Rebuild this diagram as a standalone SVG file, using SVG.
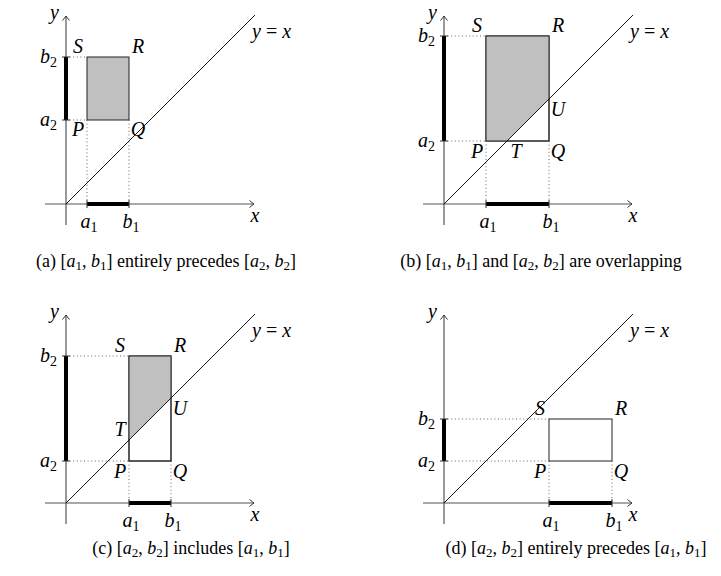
<svg xmlns="http://www.w3.org/2000/svg" width="721" height="576" viewBox="0 0 721 576">
<defs>
<marker id="arr" markerWidth="10" markerHeight="10" refX="0" refY="0" viewBox="-6 -5 8 10" orient="auto" markerUnits="userSpaceOnUse">
<path d="M -4.5 -3.5 Q -1.5 -1 0 0 Q -1.5 1 -4.5 3.5" fill="none" stroke="#333" stroke-width="1"/>
</marker>
<style>
.ax{stroke:#555;stroke-width:1.2;fill:none}
.diag{stroke:#000;stroke-width:0.9;fill:none}
.dot{stroke:#555;stroke-width:0.9;stroke-dasharray:1 2.6;fill:none}
.bar{stroke:#000;stroke-width:4;fill:none}
.tick{stroke:#333;stroke-width:1;fill:none}
.box{stroke:#222;stroke-width:1;fill:#fff}
.edge{stroke:#222;stroke-width:1;fill:none}
.shade{fill:#c0c0c0;stroke:none}
.lab{font-family:"Liberation Serif","DejaVu Serif",serif;font-style:italic;font-size:20px;fill:#000}
.rm{font-style:normal}
.sub{font-style:normal;font-size:14px}
.cap{font-family:"Liberation Serif","DejaVu Serif",serif;font-size:18px;fill:#000;text-anchor:middle}
.csub{font-size:13px}
.it{font-style:italic}
.m{text-anchor:middle}
.e{text-anchor:end}
</style>
</defs>

<!-- Panel (a) -->
<g id="panel-a" transform="translate(66,204)">
<rect class="shade" x="21" y="-147" width="42" height="63"/>
<rect class="edge" x="21" y="-147" width="42" height="63"/>
<path class="dot" d="M0 -147H21M0 -84H21M21 -84V0M63 -84V0"/>
<path class="ax" d="M-21 0H188" marker-end="url(#arr)"/>
<path class="ax" d="M0 21V-188" marker-end="url(#arr)"/>
<path class="diag" d="M0 0L189 -189"/>
<path class="bar" d="M21 0H63M0 -84V-147"/>
<path class="tick" d="M21 -4V4M63 -4V4M-4 -84H4M-4 -147H4"/>
<text class="lab e" x="-7" y="-185">y</text>
<text class="lab m" x="189" y="18">x</text>
<text class="lab m" x="23" y="24">a<tspan class="sub" dy="4">1</tspan></text>
<text class="lab m" x="65" y="24">b<tspan class="sub" dy="4">1</tspan></text>
<text class="lab e" x="-9" y="-141">b<tspan class="sub" dy="4">2</tspan></text>
<text class="lab e" x="-9" y="-78">a<tspan class="sub" dy="4">2</tspan></text>
<text class="lab m" x="12" y="-151">S</text>
<text class="lab m" x="72" y="-151">R</text>
<text class="lab m" x="12" y="-68">P</text>
<text class="lab m" x="72" y="-68">Q</text>
<text class="lab" x="186" y="-166">y <tspan class="rm">=</tspan> x</text>
</g>

<!-- Panel (b) -->
<g id="panel-b" transform="translate(444,204)">
<rect class="box" x="42" y="-168" width="63" height="105"/>
<polygon class="shade" points="42,-63 63,-63 105,-105 105,-168 42,-168"/>
<rect class="edge" x="42" y="-168" width="63" height="105"/>
<path class="dot" d="M0 -168H42M0 -63H42M42 -63V0M105 -63V0"/>
<path class="ax" d="M-21 0H188" marker-end="url(#arr)"/>
<path class="ax" d="M0 21V-188" marker-end="url(#arr)"/>
<path class="diag" d="M0 0L189 -189"/>
<path class="bar" d="M42 0H105M0 -63V-168"/>
<path class="tick" d="M42 -4V4M105 -4V4M-4 -63H4M-4 -168H4"/>
<text class="lab e" x="-7" y="-185">y</text>
<text class="lab m" x="189" y="18">x</text>
<text class="lab m" x="44" y="24">a<tspan class="sub" dy="4">1</tspan></text>
<text class="lab m" x="107" y="24">b<tspan class="sub" dy="4">1</tspan></text>
<text class="lab e" x="-9" y="-162">b<tspan class="sub" dy="4">2</tspan></text>
<text class="lab e" x="-9" y="-57">a<tspan class="sub" dy="4">2</tspan></text>
<text class="lab m" x="33" y="-172">S</text>
<text class="lab m" x="114" y="-172">R</text>
<text class="lab m" x="33" y="-46">P</text>
<text class="lab m" x="72" y="-46">T</text>
<text class="lab m" x="114" y="-46">Q</text>
<text class="lab m" x="114" y="-88">U</text>
<text class="lab" x="186" y="-166">y <tspan class="rm">=</tspan> x</text>
</g>

<!-- Panel (c) -->
<g id="panel-c" transform="translate(66,503)">
<rect class="box" x="63" y="-147" width="42" height="105"/>
<polygon class="shade" points="63,-63 105,-105 105,-147 63,-147"/>
<rect class="edge" x="63" y="-147" width="42" height="105"/>
<path class="dot" d="M0 -147H63M0 -42H63M63 -42V0M105 -42V0"/>
<path class="ax" d="M-21 0H188" marker-end="url(#arr)"/>
<path class="ax" d="M0 21V-188" marker-end="url(#arr)"/>
<path class="diag" d="M0 0L189 -189"/>
<path class="bar" d="M63 0H105M0 -42V-147"/>
<path class="tick" d="M63 -4V4M105 -4V4M-4 -42H4M-4 -147H4"/>
<text class="lab e" x="-7" y="-185">y</text>
<text class="lab m" x="189" y="18">x</text>
<text class="lab m" x="65" y="24">a<tspan class="sub" dy="4">1</tspan></text>
<text class="lab m" x="107" y="24">b<tspan class="sub" dy="4">1</tspan></text>
<text class="lab e" x="-9" y="-141">b<tspan class="sub" dy="4">2</tspan></text>
<text class="lab e" x="-9" y="-36">a<tspan class="sub" dy="4">2</tspan></text>
<text class="lab m" x="54" y="-151">S</text>
<text class="lab m" x="114" y="-151">R</text>
<text class="lab m" x="54" y="-67">T</text>
<text class="lab m" x="114" y="-88">U</text>
<text class="lab m" x="54" y="-25">P</text>
<text class="lab m" x="114" y="-25">Q</text>
<text class="lab" x="186" y="-166">y <tspan class="rm">=</tspan> x</text>
</g>

<!-- Panel (d) -->
<g id="panel-d" transform="translate(444,503)">
<rect class="box" x="105" y="-84" width="63" height="42"/>
<path class="dot" d="M0 -84H105M0 -42H105M105 -42V0M168 -42V0"/>
<path class="ax" d="M-21 0H188" marker-end="url(#arr)"/>
<path class="ax" d="M0 21V-188" marker-end="url(#arr)"/>
<path class="diag" d="M0 0L189 -189"/>
<path class="bar" d="M105 0H168M0 -42V-84"/>
<path class="tick" d="M105 -4V4M168 -4V4M-4 -42H4M-4 -84H4"/>
<text class="lab e" x="-7" y="-185">y</text>
<text class="lab m" x="189" y="18">x</text>
<text class="lab m" x="107" y="24">a<tspan class="sub" dy="4">1</tspan></text>
<text class="lab m" x="170" y="24">b<tspan class="sub" dy="4">1</tspan></text>
<text class="lab e" x="-9" y="-78">b<tspan class="sub" dy="4">2</tspan></text>
<text class="lab e" x="-9" y="-36">a<tspan class="sub" dy="4">2</tspan></text>
<text class="lab m" x="96" y="-88">S</text>
<text class="lab m" x="177" y="-88">R</text>
<text class="lab m" x="96" y="-25">P</text>
<text class="lab m" x="177" y="-25">Q</text>
<text class="lab" x="186" y="-166">y <tspan class="rm">=</tspan> x</text>
</g>

<!-- Captions -->
<g id="captions">
<text class="cap" x="166" y="267">(a) [<tspan class="it">a</tspan><tspan class="csub" dy="3">1</tspan><tspan dy="-3">, </tspan><tspan class="it">b</tspan><tspan class="csub" dy="3">1</tspan><tspan dy="-3">] entirely precedes [</tspan><tspan class="it">a</tspan><tspan class="csub" dy="3">2</tspan><tspan dy="-3">, </tspan><tspan class="it">b</tspan><tspan class="csub" dy="3">2</tspan><tspan dy="-3">]</tspan></text>
<text class="cap" x="541" y="267">(b) [<tspan class="it">a</tspan><tspan class="csub" dy="3">1</tspan><tspan dy="-3">, </tspan><tspan class="it">b</tspan><tspan class="csub" dy="3">1</tspan><tspan dy="-3">] and [</tspan><tspan class="it">a</tspan><tspan class="csub" dy="3">2</tspan><tspan dy="-3">, </tspan><tspan class="it">b</tspan><tspan class="csub" dy="3">2</tspan><tspan dy="-3">] are overlapping</tspan></text>
<text class="cap" x="191" y="554">(c) [<tspan class="it">a</tspan><tspan class="csub" dy="3">2</tspan><tspan dy="-3">, </tspan><tspan class="it">b</tspan><tspan class="csub" dy="3">2</tspan><tspan dy="-3">] includes [</tspan><tspan class="it">a</tspan><tspan class="csub" dy="3">1</tspan><tspan dy="-3">, </tspan><tspan class="it">b</tspan><tspan class="csub" dy="3">1</tspan><tspan dy="-3">]</tspan></text>
<text class="cap" x="576" y="554">(d) [<tspan class="it">a</tspan><tspan class="csub" dy="3">2</tspan><tspan dy="-3">, </tspan><tspan class="it">b</tspan><tspan class="csub" dy="3">2</tspan><tspan dy="-3">] entirely precedes [</tspan><tspan class="it">a</tspan><tspan class="csub" dy="3">1</tspan><tspan dy="-3">, </tspan><tspan class="it">b</tspan><tspan class="csub" dy="3">1</tspan><tspan dy="-3">]</tspan></text>
</g>
</svg>
